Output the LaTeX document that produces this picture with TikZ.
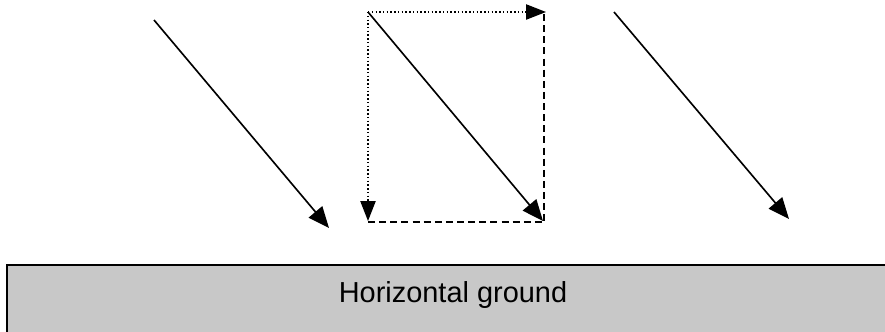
\documentclass[tikz,border=0pt]{standalone}
\usepackage{fontspec}
\setmainfont{Liberation Sans}
\usetikzlibrary{arrows.meta}

\begin{document}
\begin{tikzpicture}[x=0.03cm,y=-0.03cm,
  vec/.style={line width=1.4pt,-{Triangle[length=18pt,width=15pt]}},
  comp/.style={line width=1.2pt,dotted,-{Triangle[length=17pt,width=13pt]}},
  side/.style={line width=1.4pt,dash pattern=on 6pt off 3.5pt}]
  \clip (0,0) rectangle (885,331);
  %% ground
  \draw[line width=1.5pt,fill={rgb,255:red,200;green,200;blue,200}] (7,265) rectangle (900,345);
  \node[anchor=base,font=\fontsize{24.7}{30}\selectfont] at (453,302) (GND) {Horizontal ground};
  %% left vector
  \coordinate (A1) at (154,20);
  \coordinate (B1) at (329,228);
  \draw[vec] (A1) -- (B1);
  %% middle vector with its components
  \coordinate (A2) at (368,12);
  \coordinate (B2) at (543,221);
  \coordinate (H2) at (546,12);
  \coordinate (V2) at (368,221);
  \coordinate (C2) at (544,14);
  \coordinate (D2) at (544,225);
  \coordinate (E2) at (368,222);
  \draw[comp] (A2) -- (H2);
  \draw[comp] (A2) -- (V2);
  \draw[side] (C2) -- (D2);
  \draw[side] (E2) -- (D2 |- E2);
  \draw[vec] (A2) -- (B2);
  %% right vector
  \coordinate (A3) at (614,12);
  \coordinate (B3) at (789,219);
  \draw[vec] (A3) -- (B3);
\end{tikzpicture}
\end{document}
